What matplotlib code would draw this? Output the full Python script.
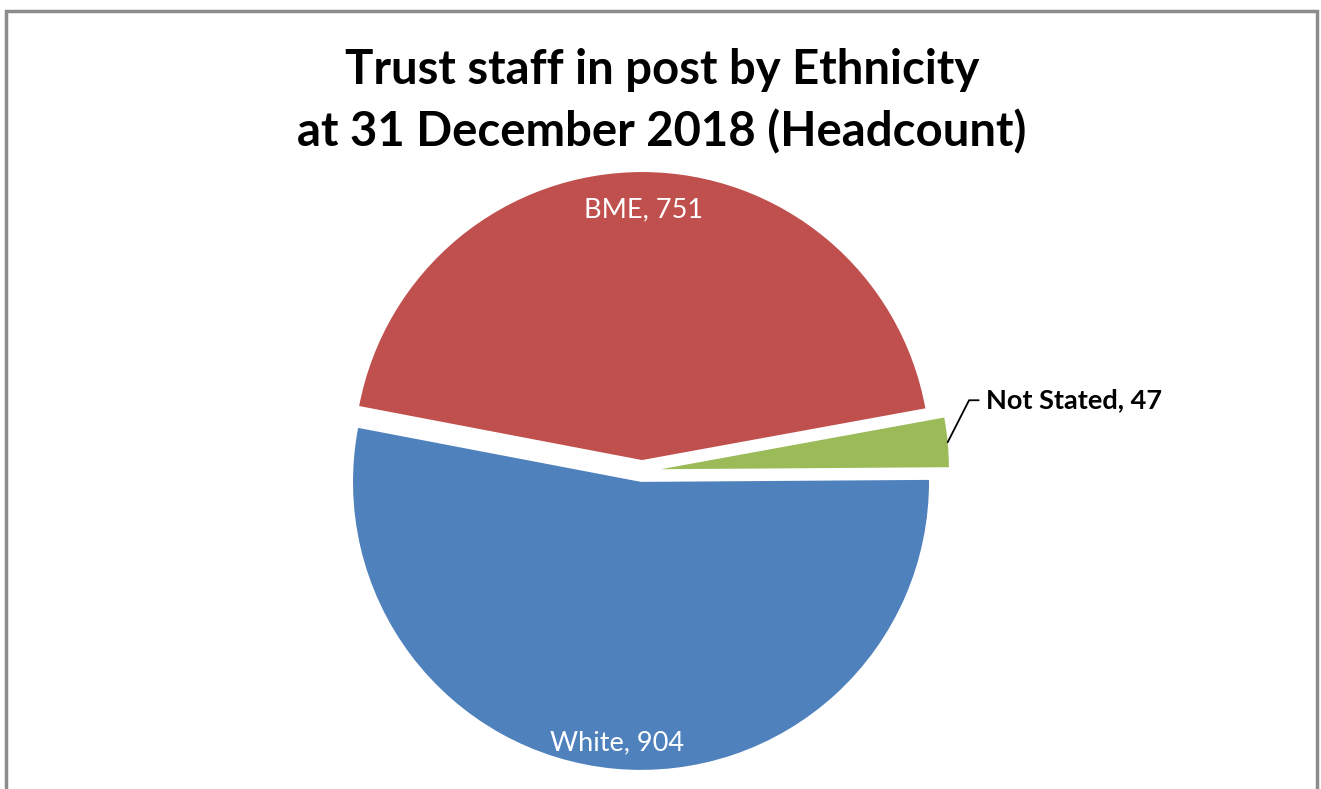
import matplotlib
matplotlib.use('Agg')
import matplotlib.pyplot as plt
from matplotlib.patches import Rectangle
import numpy as np

categories = ['White', 'BME', 'Not Stated']
headcount = [904, 751, 47]
colours = ['#4F81BD', '#C0504D', '#9BBB59']
title_lines = ['Trust staff in post by Ethnicity', 'at 31 December 2018 (Headcount)']

W, H = 1321, 789
R = 288.0            # pie radius in pixels
cx, cy = 642, 471    # pie centre in pixels (from top-left)

fig = plt.figure(figsize=(W / 100, H / 100), dpi=100)
ax = fig.add_axes([0, 0, 1, 1])

# outer chart border (bottom edge is cropped off in the reference)
fig.patches.append(Rectangle((6 / W, -0.1), 1311 / W, 1.1 - 11 / H, transform=fig.transFigure,
                             fill=False, edgecolor='#8c8c8c', linewidth=2.5))

fig.text(0.501, 1 - 70 / H, title_lines[0], ha='center', va='center',
         fontsize=34, fontweight='bold', family='Lato')
fig.text(0.501, 1 - 132 / H, title_lines[1], ha='center', va='center',
         fontsize=34, fontweight='bold', family='Lato')

labels = [f'{c}, {v}' for c, v in zip(categories, headcount)]
wedges, texts = ax.pie(headcount, colors=colours, startangle=0.4, counterclock=False,
                       explode=[0.038, 0.038, 0.066],
                       labels=[labels[0], labels[1], ''], labeldistance=0.88,
                       textprops=dict(color='white', fontsize=19.5, family='Lato'))
ax.set_aspect('equal')
ax.set_xlim(-cx / R, (W - cx) / R)
ax.set_ylim(-(H - cy) / R, cy / R)
ax.axis('off')

# inside labels: centred, slightly different distance per slice
for t, w, d in zip(texts[:2], wedges[:2], [0.91, 0.87]):
    a = np.deg2rad((w.theta1 + w.theta2) / 2)
    t.set_position((w.center[0] + d * np.cos(a), w.center[1] + d * np.sin(a)))
    t.set_ha('center')
    t.set_va('center')

# Not Stated label with leader line
w = wedges[2]
mid = np.deg2rad((w.theta1 + w.theta2) / 2)
wx, wy = w.center
px = wx + w.r * np.cos(mid)
py = wy + w.r * np.sin(mid)
ax.annotate(labels[2], xy=(px, py), xytext=(38, 42), textcoords='offset pixels',
            ha='left', va='center', fontsize=19.5, fontweight='bold', family='Lato',
            color='black',
            arrowprops=dict(arrowstyle='-', color='black', lw=1.3,
                            connectionstyle='angle,angleA=0,angleB=63,rad=0',
                            shrinkA=3, shrinkB=0))

fig.savefig('out.png', dpi=100)
